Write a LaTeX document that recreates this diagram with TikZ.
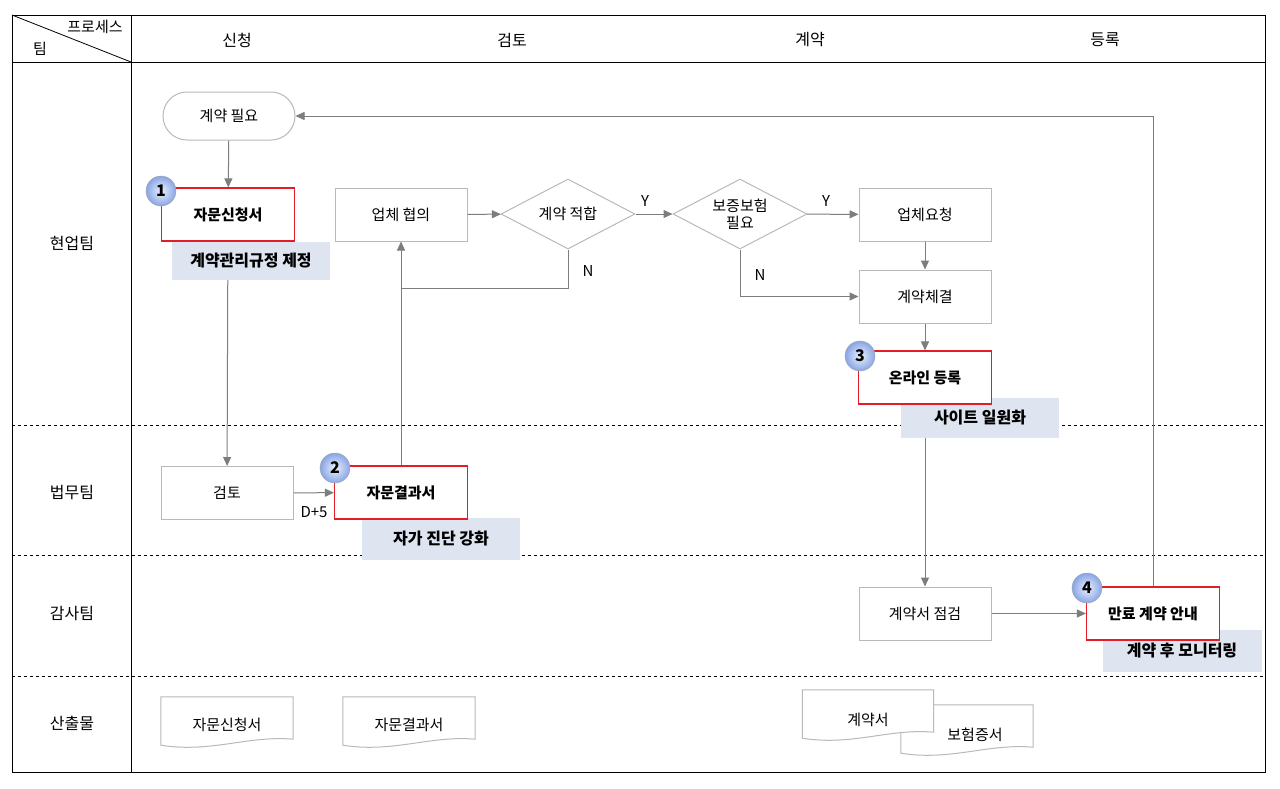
\documentclass[tikz,border=0pt]{standalone}
\usepackage{fontspec}
\setmainfont{Noto Sans CJK KR}
\usetikzlibrary{shapes.geometric,arrows.meta,shadings}
\definecolor{ln}{RGB}{125,125,125}
\definecolor{bx}{RGB}{185,185,185}
\definecolor{rd}{RGB}{225,30,40}
\definecolor{lb}{RGB}{222,228,240}
\definecolor{bb}{RGB}{135,165,230}
\tikzset{
 every node/.style={font=\fontsize{15}{17}\selectfont},
 proc/.style={draw=bx,line width=1pt,fill=white,minimum width=132pt,minimum height=53pt,inner sep=0pt},
 redbox/.style={draw=rd,line width=1.2pt,fill=white,minimum width=133pt,minimum height=53pt,inner sep=0pt,font=\fontsize{15}{17}\selectfont\bfseries},
 dec/.style={diamond,draw=bx,line width=1pt,fill=white,minimum width=134pt,minimum height=70pt,aspect=1.9,inner sep=0pt},
 tag/.style={fill=lb,minimum width=158pt,minimum height=38pt,inner sep=0pt,font=\fontsize{16}{18}\selectfont\bfseries},
 badge/.style={circle,draw=gray!70,shading=radial,inner color=white!85!bb,outer color=bb,minimum size=30pt,inner sep=0pt,font=\fontsize{16}{18}\selectfont\bfseries},
 doc/.style={minimum width=132pt,minimum height=48pt,inner sep=0pt},
 conn/.style={draw=ln,line width=1pt,-{Triangle[length=9pt,width=8pt]}},
 plain/.style={draw=ln,line width=1pt},
 lane/.style={font=\fontsize{16}{18}\selectfont},
 sep/.style={dashed,line width=0.9pt}
}
\newcommand{\docpath}[1]{\draw[bx,line width=1pt,fill=white] (#1.north west) -- (#1.north east) -- ([yshift=6pt]#1.south east) .. controls ([xshift=-45pt,yshift=10pt]#1.south east) and ([xshift=50pt,yshift=-8pt]#1.south west) .. (#1.south west) -- cycle;}
\begin{document}
\begin{tikzpicture}[x=1pt,y=-1pt]
\useasboundingbox (0,0) rectangle (1280,788);
% frame
\draw[line width=1pt,fill=white] (12,15) rectangle (1265,772);
\draw[line width=1pt] (12,62) -- (1265,62);
\draw[line width=1pt] (131,15) -- (131,772);
\draw[line width=0.8pt] (12,15) -- (131,62);
\foreach \y in {425,555,676} \draw[sep] (12,\y) -- (1265,\y);
\node (hp) at (95,27) {프로세스};
\node (ht) at (40,49) {팀};
\node[lane] (c1) at (237,40) {신청};
\node[lane] (c2) at (512,40) {검토};
\node[lane] (c3) at (810,40) {계약};
\node[lane] (c4) at (1105,40) {등록};
\node[lane] (l1) at (72,243) {현업팀};
\node[lane] (l2) at (72,492) {법무팀};
\node[lane] (l3) at (72,613) {감사팀};
\node[lane] (l4) at (72,723) {산출물};
% nodes
\node[draw=bx,line width=1pt,rounded corners=24pt,minimum width=132pt,minimum height=48pt] (need) at (229,116) {계약 필요};
\node[redbox] (app) at (228,214.5) {자문신청서};
\node[proc] (nego) at (401,214.5) {업체 협의};
\node[dec] (d1) at (568,214) {계약 적합};
\node[dec,align=center] (d2) at (740,214) {보증보험\\필요};
\node[proc] (req) at (925,214.5) {업체요청};
\node[proc] (con) at (925,296.5) {계약체결};
\node[redbox] (onl) at (925,377.5) {온라인 등록};
\node[proc] (rev) at (227,493) {검토};
\node[redbox] (res) at (401,492.5) {자문결과서};
\node[proc] (chk) at (925,613.5) {계약서 점검};
\node[redbox] (ntc) at (1153,613.5) {만료 계약 안내};
\coordinate (j1) at (568,288);
\coordinate (j2) at (401,288);
\coordinate (k1) at (740,296.5);
\coordinate (m1) at (1153,116);
% connectors
\draw[conn] (need) -- (app);
\draw[conn] (app) -- (rev);
\draw[conn] (rev) -- (res);
\node (dp) at (314,512) {D+5};
\draw[conn] (res) -- (nego);
\draw[plain] (d1.south) -- (j1) -- (j2);
\node (n1) at (588,271) {N};
\draw[conn] (nego) -- (d1);
\draw[conn] (d1) -- (d2);
\node (y1) at (645,201) {Y};
\draw[conn] (d2) -- (req);
\node (y2) at (826,201) {Y};
\draw[conn] (d2.south) -- (k1) -- (con.west);
\node (n2) at (760,275) {N};
\draw[conn] (req) -- (con);
\draw[conn] (con) -- (onl);
\draw[conn] (onl) -- (chk);
\draw[conn] (chk) -- (ntc);
\draw[conn] (ntc.north) -- (m1) -- (need.east);
% tags
\node[tag] (t1) at (251,260.5) {계약관리규정 제정};
\node[tag,minimum height=40pt] (t3) at (980,418) {사이트 일원화};
\node[tag,minimum height=42pt] (t2) at (441,539) {자가 진단 강화};
\node[tag,minimum width=159pt,minimum height=42pt] (t4) at (1182,651) {계약 후 모니터링};
% redraw red boxes over tags
\node[redbox] at (app) {자문신청서};
\node[redbox] at (onl) {온라인 등록};
\node[redbox] at (res) {자문결과서};
\node[redbox] at (ntc) {만료 계약 안내};
% badges
\node[badge] (b1) at (161,191) {1};
\node[badge] (b2) at (335,468) {2};
\node[badge] (b3) at (860,356) {3};
\node[badge] (b4) at (1087,588) {4};
% documents
\node[doc] (o1) at (227,721) {};
\docpath{o1}
\node at ([yshift=-4pt]o1.center) {자문신청서};
\node[doc] (o2) at (409,721) {};
\docpath{o2}
\node at ([yshift=-4pt]o2.center) {자문결과서};
\node[doc] (o4) at (967,729) {};
\docpath{o4}
\node at ([xshift=8pt,yshift=-6pt]o4.center) {보험증서};
\node[doc,minimum width=131pt] (o3) at (868,714) {};
\docpath{o3}
\node at ([yshift=-6pt]o3.center) {계약서};
\end{tikzpicture}
\end{document}
